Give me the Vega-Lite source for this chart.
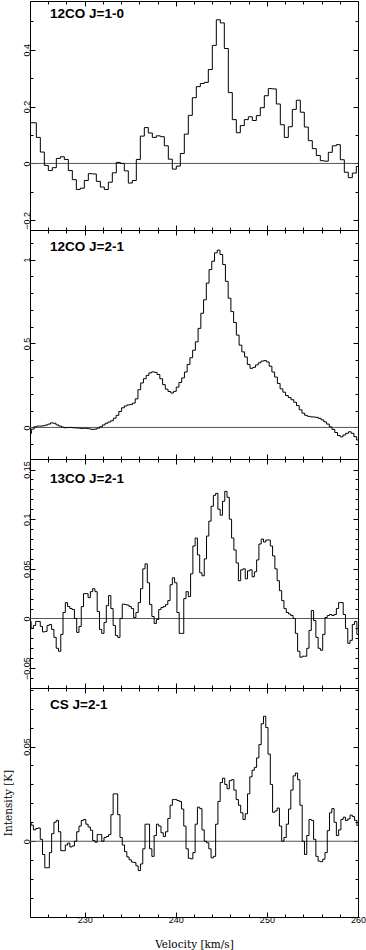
{
"$schema": "https://vega.github.io/schema/vega-lite/v6.json",
"padding": {"left": 2, "top": 0, "right": 8, "bottom": 0},
"background": "white",
"spacing": 0,
"bounds": "flush",
"config": {
  "view": {"stroke": "#000", "strokeWidth": 1},
  "axis": {"grid": false, "domain": false, "tickColor": "#000", "tickWidth": 1, "labelFont": "Liberation Sans", "labelFontSize": 9, "labelColor": "#000", "labelOverlap": false, "labelFlush": false, "titleFont": "DejaVu Serif", "titleFontSize": 10.5, "titleFontWeight": "normal", "titleColor": "#000"},
  "title": {"font": "Liberation Sans", "fontSize": 13.5, "fontWeight": "bold", "color": "#000", "anchor": "start", "frame": "group", "baseline": "alphabetic"}
},
"datasets": {
"co10": [
{"v":224.0,"T":0.143},{"v":224.695,"T":0.0915},{"v":225.134,"T":0.040},{"v":225.573,"T":-0.007},{"v":226.012,"T":-0.025},{"v":226.451,"T":-0.015},{"v":226.890,"T":0.0176},{"v":227.329,"T":0.0235},{"v":227.768,"T":0.014},{"v":228.207,"T":-0.025},{"v":228.646,"T":-0.057},{"v":229.085,"T":-0.0915},{"v":229.524,"T":-0.087},{"v":229.963,"T":-0.06},{"v":230.402,"T":-0.036},{"v":230.841,"T":-0.037},{"v":231.280,"T":-0.063},{"v":231.719,"T":-0.083},{"v":232.158,"T":-0.0915},{"v":232.597,"T":-0.066},{"v":233.036,"T":-0.033},{"v":233.475,"T":0.0035},{"v":233.914,"T":0.0},{"v":234.353,"T":-0.026},{"v":234.792,"T":-0.069},{"v":235.231,"T":-0.06},{"v":235.670,"T":0.014},{"v":236.109,"T":0.096},{"v":236.548,"T":0.126},{"v":236.987,"T":0.107},{"v":237.426,"T":0.0915},{"v":237.865,"T":0.097},{"v":238.304,"T":0.094},{"v":238.743,"T":0.062},{"v":239.182,"T":0.015},{"v":239.621,"T":-0.020},{"v":240.060,"T":-0.0095},{"v":240.499,"T":0.035},{"v":240.938,"T":0.103},{"v":241.377,"T":0.169},{"v":241.816,"T":0.231},{"v":242.255,"T":0.27},{"v":242.694,"T":0.281},{"v":243.133,"T":0.285},{"v":243.572,"T":0.33},{"v":244.011,"T":0.415},{"v":244.450,"T":0.505},{"v":244.889,"T":0.494},{"v":245.328,"T":0.404},{"v":245.767,"T":0.249},{"v":246.206,"T":0.154},{"v":246.645,"T":0.108},{"v":247.084,"T":0.133},{"v":247.523,"T":0.154},{"v":247.962,"T":0.164},{"v":248.401,"T":0.151},{"v":248.840,"T":0.168},{"v":249.279,"T":0.196},{"v":249.718,"T":0.238},{"v":250.157,"T":0.263},{"v":250.596,"T":0.262},{"v":251.035,"T":0.209},{"v":251.474,"T":0.136},{"v":251.913,"T":0.0915},{"v":252.352,"T":0.129},{"v":252.791,"T":0.19},{"v":253.230,"T":0.222},{"v":253.669,"T":0.18},{"v":254.108,"T":0.128},{"v":254.547,"T":0.080},{"v":254.986,"T":0.052},{"v":255.425,"T":0.028},{"v":255.864,"T":0.0095},{"v":256.303,"T":0.008},{"v":256.742,"T":0.039},{"v":257.181,"T":0.062},{"v":257.620,"T":0.066},{"v":258.059,"T":0.013},{"v":258.498,"T":-0.031},{"v":258.937,"T":-0.050},{"v":259.376,"T":-0.034},{"v":259.815,"T":-0.0106},{"v":260.0,"T":-0.0106}
],
"co21": [
{"v":224.0,"T":-0.036},{"v":224.3,"T":-0.01},{"v":224.6,"T":0.004},{"v":224.9,"T":0.008},{"v":225.2,"T":0.008},{"v":225.5,"T":0.01},{"v":225.8,"T":0.014},{"v":226.1,"T":0.02},{"v":226.4,"T":0.027},{"v":226.7,"T":0.025},{"v":227.0,"T":0.015},{"v":227.3,"T":0.008},{"v":227.6,"T":0.002},{"v":227.9,"T":-0.002},{"v":228.2,"T":0},{"v":228.5,"T":0},{"v":228.8,"T":-0.002},{"v":229.1,"T":-0.003},{"v":229.4,"T":-0.004},{"v":229.7,"T":-0.006},{"v":230.0,"T":-0.005},{"v":230.3,"T":-0.006},{"v":230.6,"T":-0.009},{"v":230.9,"T":-0.012},{"v":231.2,"T":-0.01},{"v":231.5,"T":-0.004},{"v":231.8,"T":0.004},{"v":232.1,"T":0.015},{"v":232.4,"T":0.025},{"v":232.7,"T":0.032},{"v":233.0,"T":0.04},{"v":233.3,"T":0.055},{"v":233.6,"T":0.072},{"v":233.9,"T":0.095},{"v":234.2,"T":0.117},{"v":234.5,"T":0.128},{"v":234.8,"T":0.134},{"v":235.1,"T":0.137},{"v":235.4,"T":0.145},{"v":235.7,"T":0.17},{"v":236.0,"T":0.225},{"v":236.3,"T":0.265},{"v":236.6,"T":0.29},{"v":236.9,"T":0.31},{"v":237.2,"T":0.325},{"v":237.5,"T":0.331},{"v":237.8,"T":0.328},{"v":238.1,"T":0.315},{"v":238.4,"T":0.29},{"v":238.7,"T":0.255},{"v":239.0,"T":0.228},{"v":239.3,"T":0.214},{"v":239.6,"T":0.205},{"v":239.9,"T":0.215},{"v":240.2,"T":0.24},{"v":240.5,"T":0.268},{"v":240.8,"T":0.295},{"v":241.1,"T":0.33},{"v":241.4,"T":0.375},{"v":241.7,"T":0.415},{"v":242.0,"T":0.46},{"v":242.3,"T":0.51},{"v":242.6,"T":0.59},{"v":242.9,"T":0.68},{"v":243.2,"T":0.76},{"v":243.5,"T":0.86},{"v":243.8,"T":0.94},{"v":244.1,"T":0.99},{"v":244.4,"T":1.04},{"v":244.7,"T":1.056},{"v":245.0,"T":1.03},{"v":245.3,"T":0.97},{"v":245.6,"T":0.87},{"v":245.9,"T":0.77},{"v":246.2,"T":0.69},{"v":246.5,"T":0.625},{"v":246.8,"T":0.55},{"v":247.1,"T":0.49},{"v":247.4,"T":0.45},{"v":247.7,"T":0.42},{"v":248.0,"T":0.375},{"v":248.3,"T":0.352},{"v":248.6,"T":0.358},{"v":248.9,"T":0.372},{"v":249.2,"T":0.385},{"v":249.5,"T":0.395},{"v":249.8,"T":0.398},{"v":250.1,"T":0.39},{"v":250.4,"T":0.365},{"v":250.7,"T":0.33},{"v":251.0,"T":0.3},{"v":251.3,"T":0.262},{"v":251.6,"T":0.23},{"v":251.9,"T":0.21},{"v":252.2,"T":0.19},{"v":252.5,"T":0.178},{"v":252.8,"T":0.165},{"v":253.1,"T":0.15},{"v":253.4,"T":0.13},{"v":253.7,"T":0.105},{"v":254.0,"T":0.085},{"v":254.3,"T":0.072},{"v":254.6,"T":0.066},{"v":254.9,"T":0.063},{"v":255.2,"T":0.062},{"v":255.5,"T":0.06},{"v":255.8,"T":0.054},{"v":256.1,"T":0.045},{"v":256.4,"T":0.033},{"v":256.7,"T":0.02},{"v":257.0,"T":0.003},{"v":257.3,"T":-0.012},{"v":257.6,"T":-0.03},{"v":257.9,"T":-0.048},{"v":258.2,"T":-0.056},{"v":258.5,"T":-0.045},{"v":258.8,"T":-0.035},{"v":259.1,"T":-0.026},{"v":259.4,"T":-0.035},{"v":259.7,"T":-0.055},{"v":260.0,"T":-0.075}
],
"co13": [
{"v":224.0,"T":-0.003},{"v":224.25,"T":-0.010},{"v":224.5,"T":-0.007},{"v":224.75,"T":-0.003},{"v":225.0,"T":-0.003},{"v":225.25,"T":-0.008},{"v":225.5,"T":-0.0135},{"v":225.75,"T":-0.013},{"v":226.0,"T":-0.007},{"v":226.25,"T":-0.006},{"v":226.5,"T":-0.011},{"v":226.75,"T":-0.019},{"v":227.0,"T":-0.030},{"v":227.25,"T":-0.033},{"v":227.5,"T":-0.016},{"v":227.75,"T":0.006},{"v":228.0,"T":0.016},{"v":228.25,"T":0.012},{"v":228.5,"T":0.010},{"v":228.75,"T":0.009},{"v":229.0,"T":0.000},{"v":229.25,"T":-0.014},{"v":229.5,"T":-0.008},{"v":229.75,"T":0.012},{"v":230.0,"T":0.025},{"v":230.25,"T":0.025},{"v":230.5,"T":0.021},{"v":230.75,"T":0.027},{"v":231.0,"T":0.030},{"v":231.25,"T":0.027},{"v":231.5,"T":0.007},{"v":231.75,"T":-0.011},{"v":232.0,"T":-0.015},{"v":232.25,"T":-0.004},{"v":232.5,"T":0.013},{"v":232.75,"T":0.023},{"v":233.0,"T":0.010},{"v":233.25,"T":-0.007},{"v":233.5,"T":-0.017},{"v":233.75,"T":-0.019},{"v":234.0,"T":0.000},{"v":234.25,"T":0.0145},{"v":234.5,"T":0.014},{"v":234.75,"T":0.0135},{"v":235.0,"T":0.012},{"v":235.25,"T":0.010},{"v":235.5,"T":0.001},{"v":235.75,"T":0.006},{"v":236.0,"T":0.016},{"v":236.25,"T":0.030},{"v":236.5,"T":0.050},{"v":236.75,"T":0.055},{"v":237.0,"T":0.036},{"v":237.25,"T":0.014},{"v":237.5,"T":0.002},{"v":237.75,"T":-0.005},{"v":238.0,"T":-0.001},{"v":238.25,"T":0.009},{"v":238.5,"T":0.011},{"v":238.75,"T":0.012},{"v":239.0,"T":0.014},{"v":239.25,"T":0.018},{"v":239.5,"T":0.034},{"v":239.75,"T":0.041},{"v":240.0,"T":0.036},{"v":240.25,"T":0.006},{"v":240.5,"T":-0.015},{"v":240.75,"T":-0.015},{"v":241.0,"T":0.020},{"v":241.25,"T":0.027},{"v":241.5,"T":0.022},{"v":241.75,"T":0.045},{"v":242.0,"T":0.073},{"v":242.25,"T":0.081},{"v":242.5,"T":0.064},{"v":242.75,"T":0.046},{"v":243.0,"T":0.043},{"v":243.25,"T":0.060},{"v":243.5,"T":0.083},{"v":243.75,"T":0.098},{"v":244.0,"T":0.113},{"v":244.25,"T":0.124},{"v":244.5,"T":0.126},{"v":244.75,"T":0.110},{"v":245.0,"T":0.104},{"v":245.25,"T":0.118},{"v":245.5,"T":0.128},{"v":245.75,"T":0.122},{"v":246.0,"T":0.100},{"v":246.25,"T":0.081},{"v":246.5,"T":0.069},{"v":246.75,"T":0.056},{"v":247.0,"T":0.038},{"v":247.25,"T":0.049},{"v":247.5,"T":0.050},{"v":247.75,"T":0.040},{"v":248.0,"T":0.048},{"v":248.25,"T":0.049},{"v":248.5,"T":0.042},{"v":248.75,"T":0.047},{"v":249.0,"T":0.059},{"v":249.25,"T":0.075},{"v":249.5,"T":0.080},{"v":249.75,"T":0.077},{"v":250.0,"T":0.079},{"v":250.25,"T":0.079},{"v":250.5,"T":0.073},{"v":250.75,"T":0.063},{"v":251.0,"T":0.050},{"v":251.25,"T":0.038},{"v":251.5,"T":0.028},{"v":251.75,"T":0.018},{"v":252.0,"T":0.010},{"v":252.25,"T":0.006},{"v":252.5,"T":0.0045},{"v":252.75,"T":0.003},{"v":253.0,"T":0.000},{"v":253.25,"T":-0.015},{"v":253.5,"T":-0.033},{"v":253.75,"T":-0.039},{"v":254.0,"T":-0.038},{"v":254.25,"T":-0.038},{"v":254.5,"T":-0.030},{"v":254.75,"T":-0.012},{"v":255.0,"T":0.008},{"v":255.25,"T":-0.002},{"v":255.5,"T":-0.019},{"v":255.75,"T":-0.030},{"v":256.0,"T":-0.032},{"v":256.25,"T":-0.016},{"v":256.5,"T":0.001},{"v":256.75,"T":0.003},{"v":257.0,"T":0.004},{"v":257.25,"T":0.003},{"v":257.5,"T":0.004},{"v":257.75,"T":0.010},{"v":258.0,"T":0.016},{"v":258.25,"T":0.016},{"v":258.5,"T":0.004},{"v":258.75,"T":-0.010},{"v":259.0,"T":-0.025},{"v":259.25,"T":-0.022},{"v":259.5,"T":-0.006},{"v":259.75,"T":-0.003},{"v":260.0,"T":-0.016}
],
"cs21": [
{"v":224.0,"T":0.010},{"v":224.25,"T":0.0085},{"v":224.5,"T":0.006},{"v":224.75,"T":0.0067},{"v":225.0,"T":0.007},{"v":225.25,"T":0.001},{"v":225.5,"T":-0.007},{"v":225.75,"T":-0.014},{"v":226.0,"T":-0.014},{"v":226.25,"T":-0.006},{"v":226.5,"T":0.004},{"v":226.75,"T":0.010},{"v":227.0,"T":0.011},{"v":227.25,"T":0.005},{"v":227.5,"T":-0.005},{"v":227.75,"T":-0.005},{"v":228.0,"T":-0.002},{"v":228.25,"T":-0.001},{"v":228.5,"T":-0.003},{"v":228.75,"T":-0.0025},{"v":229.0,"T":0.000},{"v":229.25,"T":0.005},{"v":229.5,"T":0.008},{"v":229.75,"T":0.011},{"v":230.0,"T":0.0115},{"v":230.25,"T":0.009},{"v":230.5,"T":0.0075},{"v":230.75,"T":0.0058},{"v":231.0,"T":0.0004},{"v":231.25,"T":-0.0005},{"v":231.5,"T":0.0035},{"v":231.75,"T":0.0035},{"v":232.0,"T":0.000},{"v":232.25,"T":0.002},{"v":232.5,"T":0.0025},{"v":232.75,"T":0.0035},{"v":233.0,"T":0.014},{"v":233.25,"T":0.025},{"v":233.5,"T":0.025},{"v":233.75,"T":0.014},{"v":234.0,"T":0.002},{"v":234.25,"T":-0.002},{"v":234.5,"T":-0.0055},{"v":234.75,"T":-0.0083},{"v":235.0,"T":-0.0098},{"v":235.25,"T":-0.011},{"v":235.5,"T":-0.0112},{"v":235.75,"T":-0.013},{"v":236.0,"T":-0.0155},{"v":236.25,"T":-0.012},{"v":236.5,"T":-0.004},{"v":236.75,"T":0.009},{"v":237.0,"T":0.009},{"v":237.25,"T":-0.004},{"v":237.5,"T":-0.008},{"v":237.75,"T":0.003},{"v":238.0,"T":0.009},{"v":238.25,"T":0.008},{"v":238.5,"T":0.0045},{"v":238.75,"T":0.0025},{"v":239.0,"T":0.005},{"v":239.25,"T":0.012},{"v":239.5,"T":0.019},{"v":239.75,"T":0.022},{"v":240.0,"T":0.022},{"v":240.25,"T":0.0215},{"v":240.5,"T":0.021},{"v":240.75,"T":0.017},{"v":241.0,"T":0.008},{"v":241.25,"T":-0.004},{"v":241.5,"T":-0.009},{"v":241.75,"T":-0.0093},{"v":242.0,"T":-0.006},{"v":242.25,"T":0.009},{"v":242.5,"T":0.018},{"v":242.75,"T":0.0172},{"v":243.0,"T":0.006},{"v":243.25,"T":0.000},{"v":243.5,"T":-0.0008},{"v":243.75,"T":-0.004},{"v":244.0,"T":-0.0088},{"v":244.25,"T":-0.008},{"v":244.5,"T":0.009},{"v":244.75,"T":0.021},{"v":245.0,"T":0.031},{"v":245.25,"T":0.0333},{"v":245.5,"T":0.030},{"v":245.75,"T":0.0277},{"v":246.0,"T":0.032},{"v":246.25,"T":0.0325},{"v":246.5,"T":0.027},{"v":246.75,"T":0.022},{"v":247.0,"T":0.019},{"v":247.25,"T":0.015},{"v":247.5,"T":0.0115},{"v":247.75,"T":0.0145},{"v":248.0,"T":0.025},{"v":248.25,"T":0.034},{"v":248.5,"T":0.0375},{"v":248.75,"T":0.039},{"v":249.0,"T":0.044},{"v":249.25,"T":0.051},{"v":249.5,"T":0.062},{"v":249.75,"T":0.066},{"v":250.0,"T":0.060},{"v":250.25,"T":0.046},{"v":250.5,"T":0.030},{"v":250.75,"T":0.0153},{"v":251.0,"T":0.016},{"v":251.25,"T":0.0175},{"v":251.5,"T":0.008},{"v":251.75,"T":0.000},{"v":252.0,"T":0.002},{"v":252.25,"T":0.009},{"v":252.5,"T":0.017},{"v":252.75,"T":0.027},{"v":253.0,"T":0.0345},{"v":253.25,"T":0.036},{"v":253.5,"T":0.0325},{"v":253.75,"T":0.019},{"v":254.0,"T":0.000},{"v":254.25,"T":-0.007},{"v":254.5,"T":0.003},{"v":254.75,"T":0.0115},{"v":255.0,"T":0.011},{"v":255.25,"T":0.001},{"v":255.5,"T":-0.008},{"v":255.75,"T":-0.0105},{"v":256.0,"T":-0.0108},{"v":256.25,"T":-0.0095},{"v":256.5,"T":-0.006},{"v":256.75,"T":0.0056},{"v":257.0,"T":0.015},{"v":257.25,"T":0.0172},{"v":257.5,"T":0.010},{"v":257.75,"T":0.003},{"v":258.0,"T":0.006},{"v":258.25,"T":0.0115},{"v":258.5,"T":0.0127},{"v":258.75,"T":0.011},{"v":259.0,"T":0.0118},{"v":259.25,"T":0.0138},{"v":259.5,"T":0.013},{"v":259.75,"T":0.011},{"v":260.0,"T":0.0083}
]
},
"vconcat": [
{
 "width": 328, "height": 229,
 "title": {"text": "12CO J=1-0", "offset": -19.5, "dx": 20},
 "layer": [
  {"data": {"values": [{}]},
   "mark": {"type": "rule", "color": "#555", "strokeWidth": 1},
   "encoding": {
    "x": {"datum": 224, "type": "quantitative", "scale": {"domain": [224, 260], "nice": false, "zero": false},
          "axis": {"orient": "top", "values": [224,226,228,230,232,234,236,238,240,242,244,246,248,250,252,254,256,258,260], "labels": false, "title": null, "tickSize": {"condition": {"test": "datum.value % 10 === 0", "value": -5}, "value": -3}}},
    "x2": {"datum": 260},
    "y": {"datum": 0, "type": "quantitative", "scale": {"domain": [-0.234, 0.571], "nice": false, "zero": false},
          "axis": {"orient": "right", "values": [-0.2,-0.1,0,0.1,0.2,0.3,0.4,0.5], "labels": false, "title": null, "tickSize": {"condition": {"test": "indexof([-0.2,0,0.2,0.4], datum.value) >= 0", "value": -5}, "value": -3}}}
   }},
  {"data": {"name": "co10"},
   "mark": {"type": "line", "interpolate": "step-after", "color": "#000", "strokeWidth": 1, "clip": true},
   "encoding": {
    "x": {"field": "v", "type": "quantitative",
          "axis": {"orient": "bottom", "values": [224,226,228,230,232,234,236,238,240,242,244,246,248,250,252,254,256,258,260], "labels": false, "title": null, "tickSize": {"condition": {"test": "datum.value % 10 === 0", "value": -5}, "value": -3}}},
    "y": {"field": "T", "type": "quantitative",
          "axis": {"orient": "left", "values": [-0.2,-0.1,0,0.1,0.2,0.3,0.4,0.5], "format": "~g", "labelExpr": "indexof([-0.2,0,0.2,0.4], datum.value) >= 0 ? datum.label : ''", "labelAngle": -90, "labelAlign": "center", "labelBaseline": "bottom", "labelPadding": 4, "title": null, "tickSize": {"condition": {"test": "indexof([-0.2,0,0.2,0.4], datum.value) >= 0", "value": -5}, "value": -3}}}
   }}
 ],
 "resolve": {"axis": {"x": "independent", "y": "independent"}}
},
{
 "width": 328, "height": 229,
 "title": {"text": "12CO J=2-1", "offset": -24, "dx": 20},
 "layer": [
  {"data": {"values": [{}]},
   "mark": {"type": "rule", "color": "#555", "strokeWidth": 1},
   "encoding": {
    "x": {"datum": 224, "type": "quantitative", "scale": {"domain": [224, 260], "nice": false, "zero": false},
          "axis": {"orient": "top", "values": [224,226,228,230,232,234,236,238,240,242,244,246,248,250,252,254,256,258,260], "labels": false, "title": null, "tickSize": {"condition": {"test": "datum.value % 10 === 0", "value": -5}, "value": -3}}},
    "x2": {"datum": 260},
    "y": {"datum": 0, "type": "quantitative", "scale": {"domain": [-0.188, 1.176], "nice": false, "zero": false},
          "axis": {"orient": "right", "values": [-0.1,0,0.1,0.2,0.3,0.4,0.5,0.6,0.7,0.8,0.9,1,1.1], "labels": false, "title": null, "tickSize": {"condition": {"test": "indexof([0,0.5,1], datum.value) >= 0", "value": -5}, "value": -3}}}
   }},
  {"data": {"name": "co21"},
   "mark": {"type": "line", "interpolate": "step", "color": "#000", "strokeWidth": 1, "clip": true},
   "encoding": {
    "x": {"field": "v", "type": "quantitative",
          "axis": {"orient": "bottom", "values": [224,226,228,230,232,234,236,238,240,242,244,246,248,250,252,254,256,258,260], "labels": false, "title": null, "tickSize": {"condition": {"test": "datum.value % 10 === 0", "value": -5}, "value": -3}}},
    "y": {"field": "T", "type": "quantitative",
          "axis": {"orient": "left", "values": [-0.1,0,0.1,0.2,0.3,0.4,0.5,0.6,0.7,0.8,0.9,1,1.1], "format": "~g", "labelExpr": "indexof([0,0.5,1], datum.value) >= 0 ? datum.label : ''", "labelAngle": -90, "labelAlign": "center", "labelBaseline": "bottom", "labelPadding": 4, "title": null, "tickSize": {"condition": {"test": "indexof([0,0.5,1], datum.value) >= 0", "value": -5}, "value": -3}}}
   }}
 ],
 "resolve": {"axis": {"x": "independent", "y": "independent"}}
},
{
 "width": 328, "height": 229,
 "title": {"text": "13CO J=2-1", "offset": -26.5, "dx": 20},
 "layer": [
  {"data": {"values": [{}]},
   "mark": {"type": "rule", "color": "#555", "strokeWidth": 1},
   "encoding": {
    "x": {"datum": 224, "type": "quantitative", "scale": {"domain": [224, 260], "nice": false, "zero": false},
          "axis": {"orient": "top", "values": [224,226,228,230,232,234,236,238,240,242,244,246,248,250,252,254,256,258,260], "labels": false, "title": null, "tickSize": {"condition": {"test": "datum.value % 10 === 0", "value": -5}, "value": -3}}},
    "x2": {"datum": 260},
    "y": {"datum": 0, "type": "quantitative", "scale": {"domain": [-0.070, 0.1606], "nice": false, "zero": false},
          "axis": {"orient": "right", "values": [-0.06,-0.05,-0.04,-0.03,-0.02,-0.01,0,0.01,0.02,0.03,0.04,0.05,0.06,0.07,0.08,0.09,0.1,0.11,0.12,0.13,0.14,0.15], "labels": false, "title": null, "tickSize": {"condition": {"test": "indexof([-0.05,0,0.05,0.1,0.15], datum.value) >= 0", "value": -5}, "value": -3}}}
   }},
  {"data": {"name": "co13"},
   "mark": {"type": "line", "interpolate": "step", "color": "#000", "strokeWidth": 1, "clip": true},
   "encoding": {
    "x": {"field": "v", "type": "quantitative",
          "axis": {"orient": "bottom", "values": [224,226,228,230,232,234,236,238,240,242,244,246,248,250,252,254,256,258,260], "labels": false, "title": null, "tickSize": {"condition": {"test": "datum.value % 10 === 0", "value": -5}, "value": -3}}},
    "y": {"field": "T", "type": "quantitative",
          "axis": {"orient": "left", "values": [-0.06,-0.05,-0.04,-0.03,-0.02,-0.01,0,0.01,0.02,0.03,0.04,0.05,0.06,0.07,0.08,0.09,0.1,0.11,0.12,0.13,0.14,0.15], "format": "~g", "labelExpr": "indexof([-0.05,0,0.05,0.1,0.15], datum.value) >= 0 ? datum.label : ''", "labelAngle": -90, "labelAlign": "center", "labelBaseline": "bottom", "labelPadding": 4, "title": null, "tickSize": {"condition": {"test": "indexof([-0.05,0,0.05,0.1,0.15], datum.value) >= 0", "value": -5}, "value": -3}}}
   }}
 ],
 "resolve": {"axis": {"x": "independent", "y": "independent"}}
},
{
 "width": 328, "height": 229,
 "title": {"text": "CS J=2-1", "offset": -24, "dx": 20},
 "layer": [
  {"data": {"values": [{}]},
   "mark": {"type": "rule", "color": "#555", "strokeWidth": 1},
   "encoding": {
    "x": {"datum": 224, "type": "quantitative", "scale": {"domain": [224, 260], "nice": false, "zero": false},
          "axis": {"orient": "top", "values": [224,226,228,230,232,234,236,238,240,242,244,246,248,250,252,254,256,258,260], "labels": false, "title": null, "tickSize": {"condition": {"test": "datum.value % 10 === 0", "value": -5}, "value": -3}}},
    "x2": {"datum": 260},
    "y": {"datum": 0, "type": "quantitative", "scale": {"domain": [-0.040, 0.0809], "nice": false, "zero": false},
          "axis": {"orient": "right", "values": [-0.03,-0.02,-0.01,0,0.01,0.02,0.03,0.04,0.05,0.06,0.07,0.08], "labels": false, "title": null, "tickSize": {"condition": {"test": "indexof([0,0.05], datum.value) >= 0", "value": -5}, "value": -3}}}
   }},
  {"data": {"name": "cs21"},
   "mark": {"type": "line", "interpolate": "step", "color": "#000", "strokeWidth": 1, "clip": true},
   "encoding": {
    "x": {"field": "v", "type": "quantitative",
          "axis": {"orient": "bottom", "values": [224,226,228,230,232,234,236,238,240,242,244,246,248,250,252,254,256,258,260], "format": "d", "labelExpr": "datum.value % 10 === 0 ? datum.label : ''", "labelPadding": 3, "title": "Velocity  [km/s]", "titleY": 30, "titleBaseline": "alphabetic", "tickSize": {"condition": {"test": "datum.value % 10 === 0", "value": -5}, "value": -3}}},
    "y": {"field": "T", "type": "quantitative",
          "axis": {"orient": "left", "values": [-0.03,-0.02,-0.01,0,0.01,0.02,0.03,0.04,0.05,0.06,0.07,0.08], "format": "~g", "labelExpr": "indexof([0,0.05], datum.value) >= 0 ? datum.label : ''", "labelAngle": -90, "labelAlign": "center", "labelBaseline": "bottom", "labelPadding": 4, "title": "Intensity [K]", "titleX": -22, "titleY": 114.5, "titleBaseline": "middle", "titleAlign": "center", "tickSize": {"condition": {"test": "indexof([0,0.05], datum.value) >= 0", "value": -5}, "value": -3}}}
   }}
 ],
 "resolve": {"axis": {"x": "independent", "y": "independent"}}
}
]
}
